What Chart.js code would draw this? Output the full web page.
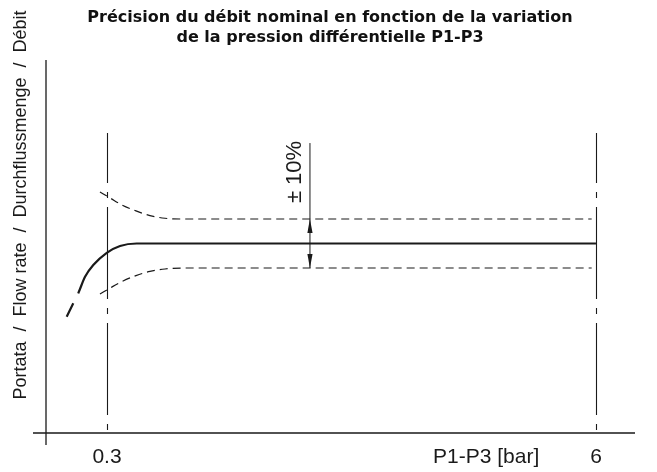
<!DOCTYPE html>
<html>
<head>
<meta charset="utf-8">
<script src="https://cdn.jsdelivr.net/npm/chart.js@4.4.1/dist/chart.umd.min.js"></script>
<style>
  html, body { margin: 0; padding: 0; background: #fff; }
  #chart { display: block; }
</style>
</head>
<body>
<canvas id="chart" width="657" height="472"></canvas>
<script>
// x axis: P1-P3 [bar] (schematic), y axis: flow rate relative to nominal
const xTicks = [0.3, 6];
const xTickLabels = ['0.3', '6'];
const xTitle = 'P1-P3 [bar]';
const xTitleAt = 4.72;
const yTitle = 'Portata  /  Flow rate  /  Durchflussmenge  /  Débit';
const titleLines = ['Précision du débit nominal en fonction de la variation', 'de la pression différentielle P1-P3'];

const nominalX = [-0.17, -0.093, -0.035, 0.044, 0.14, 0.297, 0.452, 0.646, 6];
const nominalY = [0.701, 0.756, 0.797, 0.864, 0.912, 0.962, 0.99, 1.0, 1.0];
const upperX = [0.218, 0.335, 0.475, 0.638, 0.801, 0.976, 1.209, 5.95];
const upperY = [1.21, 1.186, 1.157, 1.133, 1.114, 1.103, 1.1, 1.1];
const lowerX = [0.218, 0.335, 0.475, 0.638, 0.801, 0.976, 1.209, 5.95];
const lowerY = [0.794, 0.818, 0.845, 0.869, 0.886, 0.896, 0.9, 0.9];

const tolerance = 0.1;
const toleranceLabel = '± 10%';
const arrowX = 2.666;
const arrowTop = 1.41;
const labelX = 2.49;
const labelY = 1.292;

const ink = '#1a1a1a';
const pts = (xs, ys) => xs.map((x, i) => ({ x: x, y: ys[i] }));

const sketch = {
  id: 'sketch',
  afterDatasetsDraw(chart) {
    const { ctx, chartArea: a, scales: { x, y } } = chart;
    ctx.save();
    ctx.strokeStyle = ink;
    ctx.fillStyle = ink;

    // title
    ctx.fillStyle = '#111';
    ctx.font = 'bold 16px "DejaVu Sans", sans-serif';
    ctx.textAlign = 'center';
    ctx.textBaseline = 'middle';
    titleLines.forEach((t, i) => ctx.fillText(t, 330, 18 + i * 20));
    ctx.fillStyle = ink;

    // axes (crossing a little past each other)
    ctx.lineWidth = 1.3;
    ctx.beginPath();
    ctx.moveTo(a.left - 13, a.bottom);
    ctx.lineTo(a.right, a.bottom);
    ctx.moveTo(a.left, a.top);
    ctx.lineTo(a.left, a.bottom + 12);
    ctx.stroke();

    // dash-dot limit lines at 0.3 and 6 bar
    ctx.lineWidth = 1.1;
    ctx.setLineDash([92, 9, 6, 9]);
    ctx.lineDashOffset = 42;
    xTicks.forEach(v => {
      const px = Math.round(x.getPixelForValue(v)) + 0.5;
      ctx.beginPath();
      ctx.moveTo(px, 133);
      ctx.lineTo(px, a.bottom - 3);
      ctx.stroke();
    });
    ctx.setLineDash([]);

    // tolerance arrow
    const ax = x.getPixelForValue(arrowX);
    const yTop = y.getPixelForValue(arrowTop);
    const yUp = y.getPixelForValue(1 + tolerance);
    const yDn = y.getPixelForValue(1 - tolerance);
    ctx.lineWidth = 1;
    ctx.beginPath();
    ctx.moveTo(ax, yTop);
    ctx.lineTo(ax, yDn);
    ctx.stroke();
    [[yUp, 1], [yDn, -1]].forEach(([tip, dir]) => {
      ctx.beginPath();
      ctx.moveTo(ax, tip);
      ctx.lineTo(ax - 2.6, tip + dir * 14);
      ctx.lineTo(ax + 2.6, tip + dir * 14);
      ctx.closePath();
      ctx.fill();
    });

    // ± 10 %
    ctx.save();
    ctx.translate(x.getPixelForValue(labelX), y.getPixelForValue(labelY));
    ctx.rotate(-Math.PI / 2);
    ctx.font = '22px "Liberation Sans", sans-serif';
    ctx.textAlign = 'center';
    ctx.textBaseline = 'middle';
    ctx.fillText(toleranceLabel, 0, 0);
    ctx.restore();

    // y axis title
    ctx.save();
    ctx.translate(26, 205);
    ctx.rotate(-Math.PI / 2);
    ctx.font = '18px "Liberation Sans", sans-serif';
    ctx.textAlign = 'center';
    ctx.textBaseline = 'alphabetic';
    ctx.fillText(yTitle, 0, 0, 400);
    ctx.restore();

    // x axis title, on the tick label line
    ctx.font = '21px "Liberation Sans", sans-serif';
    ctx.textAlign = 'center';
    ctx.textBaseline = 'middle';
    ctx.fillText(xTitle, x.getPixelForValue(xTitleAt), 457);

    ctx.restore();
  }
};

new Chart(document.getElementById('chart'), {
  type: 'line',
  data: {
    datasets: [
      {
        label: 'nominal',
        data: pts(nominalX, nominalY),
        borderColor: ink,
        borderWidth: 2.2,
        segment: { borderDash: c => c.p0DataIndex < 2 ? [15, 11] : undefined }
      },
      {
        label: '+10%',
        data: pts(upperX, upperY),
        borderColor: ink,
        borderWidth: 1.2,
        borderDash: [8, 5]
      },
      {
        label: '-10%',
        data: pts(lowerX, lowerY),
        borderColor: ink,
        borderWidth: 1.2,
        borderDash: [8, 5]
      }
    ]
  },
  options: {
    responsive: false,
    animation: false,
    devicePixelRatio: 1,
    elements: {
      point: { radius: 0 },
      line: { cubicInterpolationMode: 'monotone', fill: false }
    },
    layout: { padding: { left: 46, right: 22, top: 60, bottom: 4.6 } },
    plugins: {
      legend: { display: false },
      tooltip: { enabled: false },
      title: { display: false }
    },
    scales: {
      x: {
        type: 'linear',
        min: -0.411,
        max: 6.455,
        grid: { display: false, drawTicks: false },
        border: { display: false },
        afterBuildTicks: s => { s.ticks = xTicks.map(v => ({ value: v })); },
        afterFit: s => { s.height = 34.4; },
        ticks: {
          autoSkip: false,
          maxRotation: 0,
          padding: 11.4,
          color: ink,
          font: { family: '"Liberation Sans", sans-serif', size: 21 },
          callback: v => xTickLabels[xTicks.indexOf(v)]
        }
      },
      y: {
        type: 'linear',
        display: false,
        min: 0.2265,
        max: 1.749
      }
    }
  },
  plugins: [sketch]
});
</script>
</body>
</html>
